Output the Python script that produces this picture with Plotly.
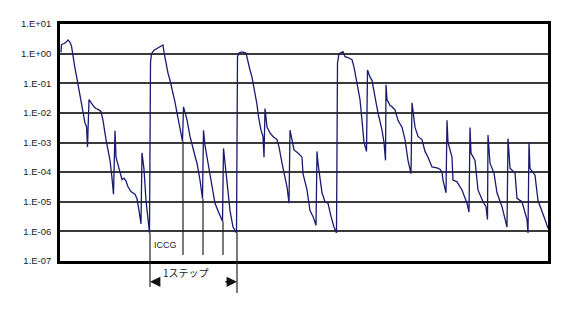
import plotly.graph_objects as go
import math

# iteration index (horizontal position) and residual values
iteration = [1, 1.5, 4, 6, 8, 10, 11.5, 13, 15, 17, 19, 21, 23, 25, 26.5, 27.5, 29, 31, 34, 36,
             39, 41, 43, 46, 48, 50, 52, 53.5, 55, 56, 58, 60, 62, 64, 66, 68, 71, 75, 77, 79,
             81, 82, 84, 86, 88, 89.5, 90.5, 91.5, 94, 97, 99, 101, 103, 104, 106, 108, 110, 112, 115, 117,
             120, 122.5, 123.5, 125, 127, 130, 133, 135, 137, 140, 142.5, 143.5, 145, 147, 150, 153, 155, 158, 160, 162.5,
             163.5, 165, 167, 170, 173, 176.5, 177.5, 179, 181, 183, 186, 188, 190, 192, 194, 197, 198.5, 201, 203, 204,
             205, 207, 210, 213, 217, 219, 222, 225, 227, 229, 230, 232, 234, 238, 242, 243, 247, 250, 253, 256,
             257, 258, 262, 265, 268, 271, 274, 276.5, 277.5, 279, 281, 283, 285, 288, 292, 294, 297, 300, 302, 304,
             306.5, 307.5, 310, 312, 315, 318, 322, 324, 325.5, 326, 327, 330, 332, 335, 338, 342, 345, 348, 351, 352,
             355, 358, 362, 365, 368, 372, 377, 380, 382, 383, 386, 387, 388, 392, 393, 397, 402, 407, 409, 410,
             411, 415, 418, 423, 426, 427.5, 428, 430, 434, 437, 442, 447, 448, 450, 455, 457, 462, 467, 468, 469,
             470, 475, 478, 482, 485, 488]

residual = [1.1, 2.0, 2.2, 2.4, 2.9, 2.4, 1.8, 0.79, 0.32, 0.14, 0.056, 0.022, 0.010, 4.5e-3, 3.5e-3, 7.1e-4, 2.8e-2, 2.2e-2, 1.6e-2, 1.4e-2,
            1.26e-2, 1.1e-2, 5.6e-3, 1.26e-3, 5.0e-4, 2.5e-4, 6.3e-5, 1.8e-5, 2.5e-3, 3.2e-4, 1.8e-4, 1.1e-4, 5.6e-5, 6.3e-5, 5.0e-5, 3.2e-5, 2.2e-5, 1.8e-5, 1.26e-5, 5.0e-6,
            1.8e-6, 4.5e-4, 1.26e-4, 1.1e-5, 2.8e-6, 8.9e-7, 0.5, 1.0, 1.3, 1.5, 1.7, 1.8, 1.95, 1.1, 0.45, 0.22, 0.126, 0.069, 0.023, 0.010,
            2.6e-3, 1.1e-3, 1.6e-2, 1.1e-2, 5.8e-3, 1.6e-3, 5.6e-4, 3.5e-4, 2.0e-4, 5.4e-5, 1.26e-5, 2.6e-3, 7.9e-4, 3.2e-4, 6.8e-5, 2.0e-5, 8.9e-6, 5.0e-6, 3.5e-6, 2.2e-6,
            6.3e-4, 2.0e-4, 5.4e-5, 5.0e-6, 1.4e-6, 8.9e-7, 0.79, 1.05, 1.12, 1.12, 1.05, 0.5, 0.28, 0.16, 0.069, 0.019, 7.4e-3, 2.6e-3, 1.6e-3, 3.2e-4,
            1.4e-2, 3.3e-3, 2.1e-3, 1.6e-3, 1.26e-3, 7.1e-4, 2.0e-4, 6.8e-5, 3.2e-5, 8.9e-6, 2.6e-3, 1.26e-3, 5.6e-4, 4.4e-4, 3.2e-4, 8.9e-5, 2.5e-5, 5.0e-6, 3.2e-6, 1.6e-6,
            5.0e-4, 2.0e-4, 2.0e-5, 1.0e-5, 8.9e-6, 3.2e-6, 1.4e-6, 8.9e-7, 0.48, 1.0, 1.12, 1.17, 0.79, 0.74, 0.63, 0.35, 0.10, 0.028, 5.6e-3, 1.0e-3,
            5.0e-4, 0.28, 0.16, 0.126, 0.035, 0.010, 2.6e-3, 1.0e-3, 2.5e-4, 0.089, 0.028, 0.018, 0.016, 0.0126, 5.6e-3, 3.3e-3, 1.26e-3, 2.5e-4, 8.9e-5, 0.022,
            3.3e-3, 1.6e-3, 1.26e-3, 5.0e-4, 3.2e-4, 1.5e-4, 1.4e-4, 1.26e-4, 1.0e-4, 5.4e-5, 2.0e-5, 5.6e-3, 1.0e-3, 3.2e-4, 5.4e-5, 4.7e-5, 2.5e-5, 8.9e-6, 4.5e-6, 3.2e-3,
            4.4e-4, 2.5e-4, 2.5e-5, 1.0e-5, 6.8e-6, 2.5e-6, 1.8e-3, 2.0e-4, 9.3e-5, 2.0e-5, 6.8e-6, 1.4e-6, 1.35e-3, 1.35e-4, 9.3e-5, 1.3e-5, 1.0e-5, 2.5e-6, 8.9e-7, 1.0e-3,
            1.35e-4, 7.9e-5, 1.1e-5, 5.0e-6, 2.5e-6, 1.26e-6]

tick_values = [1e1, 1e0, 1e-1, 1e-2, 1e-3, 1e-4, 1e-5, 1e-6, 1e-7]
tick_labels = ["1.E+01", "1.E+00", "1.E-01", "1.E-02", "1.E-03", "1.E-04", "1.E-05", "1.E-06", "1.E-07"]

# indices (into the lists above) of the ICCG restart dips and of the outer-step boundaries
iccg_dips = [61, 70, 79]
step_edges = [45, 85]
step_label = "1ステップ"
iccg_label = "ICCG"

X_RANGE = [0, 488]
Y_LOG_RANGE = [-7, 1]


def paper_y(v):
    return (math.log10(v) - Y_LOG_RANGE[0]) / (Y_LOG_RANGE[1] - Y_LOG_RANGE[0])


fig = go.Figure()
fig.add_trace(go.Scatter(x=iteration, y=residual, mode="lines",
                         line=dict(color="#1a1a72", width=1.3), showlegend=False,
                         hoverinfo="skip"))

shapes = []
for i in iccg_dips:
    xm = (iteration[i] + iteration[i + 1]) / 2
    shapes.append(dict(type="line", xref="x", yref="paper", x0=xm, x1=xm,
                       y0=paper_y(residual[i]), y1=0.025,
                       line=dict(color="#222222", width=1.2)))
edge_bottoms = [-0.11, -0.135]
edge_x = []
for i, yb in zip(step_edges, edge_bottoms):
    xm = (iteration[i] + iteration[i + 1]) / 2
    edge_x.append(xm)
    shapes.append(dict(type="line", xref="x", yref="paper", x0=xm, x1=xm,
                       y0=paper_y(residual[i]), y1=yb,
                       line=dict(color="#222222", width=1.2)))

annotations = [
    dict(x=edge_x[0] + 15, y=paper_y(2e-7), xref="x", yref="paper", text=iccg_label,
         showarrow=False, font=dict(family="Liberation Sans", size=9, color="#222")),
    dict(x=(edge_x[0] + edge_x[1]) / 2 - 8, y=-0.088, xref="x", yref="paper", text=step_label,
         showarrow=False, font=dict(family="Noto Sans CJK JP", size=10, color="#222")),
    dict(x=edge_x[0], y=-0.088, xref="x", yref="paper", text="", showarrow=True,
         ax=11, ay=0, arrowhead=2, arrowsize=1.3, arrowwidth=1.6, arrowcolor="#111"),
    dict(x=edge_x[1], y=-0.088, xref="x", yref="paper", text="", showarrow=True,
         ax=-13, ay=0, arrowhead=2, arrowsize=1.3, arrowwidth=1.6, arrowcolor="#111"),
]

fig.update_layout(
    width=566, height=322,
    margin=dict(l=60, r=18, t=24, b=61),
    paper_bgcolor="white", plot_bgcolor="white",
    shapes=shapes, annotations=annotations,
    xaxis=dict(range=X_RANGE, showgrid=False, zeroline=False, showticklabels=False,
               ticks="", showline=True, mirror=True, linecolor="black", linewidth=2.5),
    yaxis=dict(type="log", range=Y_LOG_RANGE, tickvals=tick_values, ticktext=tick_labels,
               showgrid=True, gridcolor="#3a3a3a", gridwidth=1.6,
               ticks="outside", ticklen=4, tickcolor="white",
               tickfont=dict(family="Liberation Sans", size=9.5, color="#222"),
               showline=True, mirror=True, linecolor="black", linewidth=2.5, zeroline=False),
)

fig.write_html("out.html")
